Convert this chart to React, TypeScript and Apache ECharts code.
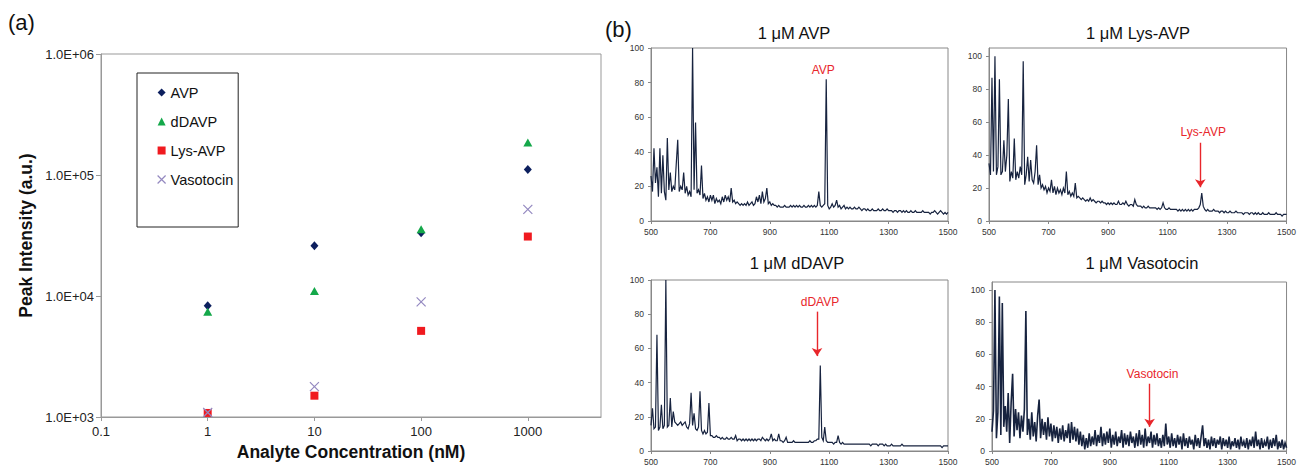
import React, { useEffect, useRef } from 'react';
import * as echarts from 'echarts';

// ---------- Panel (a): peak intensity vs concentration ----------
const concentrations = [1, 10, 100, 1000];
const avp = [8300, 26000, 33300, 111000];
const ddavp = [7400, 11000, 35600, 186000];
const lysAvp = [1080, 1500, 5150, 31000];
const vasotocin = [1090, 1780, 8950, 52000];

// ---------- Panel (b): mass spectra (m/z grid 500..1500, step 5) ----------
const mzStart = 500;
const mzStep = 5;

const specAVP = [
  26, 17, 42, 22, 31, 14, 42, 16, 38, 17, 12, 48, 18, 28, 17, 20, 18, 33, 47, 17,
  20, 18, 28, 16, 20, 15, 17, 14, 100, 18, 57, 16, 18, 15, 32, 13, 16, 12, 14, 11,
  15, 12, 15, 10, 13, 11, 12, 10, 14, 11, 15, 12, 14, 11, 19, 11, 12, 10, 11, 10,
  9, 10, 9, 10, 9, 11, 9, 10, 11, 9, 10, 14, 11, 15, 10, 17, 11, 13, 19, 10,
  11, 9, 10, 9, 9, 8, 9, 8, 8, 8, 9, 8, 8, 8, 9, 8, 9, 8, 9, 8,
  9, 8, 8, 9, 8, 8, 9, 8, 9, 8, 9, 8, 9, 17, 9, 8, 9, 10, 82, 9,
  7, 8, 10, 8, 9, 12, 8, 9, 7, 8, 9, 7, 8, 7, 8, 7, 7, 8, 7, 7,
  8, 7, 6, 7, 7, 6, 7, 6, 6, 7, 6, 6, 6, 7, 6, 6, 7, 6, 6, 7,
  6, 6, 6, 5, 6, 6, 5, 6, 6, 5, 6, 5, 6, 5, 5, 6, 5, 5, 6, 5,
  5, 5, 5, 6, 5, 5, 5, 5, 4, 5, 5, 6, 5, 4, 5, 6, 5, 4, 5, 4,
  5,
];

const specLysAVP = [
  35, 28, 87, 30, 100, 28, 33, 86, 28, 30, 49, 30, 40, 74, 24, 30, 26, 50, 25, 30,
  26, 33, 28, 97, 22, 28, 39, 24, 37, 25, 23, 30, 46, 22, 28, 20, 22, 19, 21, 17,
  20, 18, 25, 17, 21, 16, 20, 17, 19, 16, 20, 17, 30, 16, 18, 15, 17, 15, 23, 14,
  15, 14, 13, 14, 13, 12, 13, 12, 14, 12, 13, 12, 11, 12, 12, 11, 12, 11, 11, 10,
  11, 10, 11, 10, 11, 10, 10, 12, 10, 10, 11, 10, 12, 10, 9, 10, 10, 9, 13, 10,
  9, 9, 9, 8, 9, 8, 8, 9, 8, 8, 8, 8, 8, 7, 8, 7, 8, 11, 8, 7,
  7, 8, 7, 7, 7, 7, 7, 6, 7, 6, 7, 6, 7, 6, 7, 6, 7, 6, 7, 7,
  7, 8, 10, 17, 9, 7, 6, 7, 6, 6, 6, 7, 6, 6, 6, 5, 6, 6, 5, 6,
  5, 5, 6, 5, 5, 5, 6, 5, 5, 5, 5, 4, 5, 5, 5, 4, 5, 5, 4, 5,
  4, 5, 4, 4, 5, 4, 4, 4, 5, 4, 4, 4, 4, 5, 4, 4, 4, 3, 4, 4,
  4,
];

const specDDAVP = [
  15, 25, 13, 14, 68, 12, 14, 27, 13, 15, 100, 14, 15, 31, 14, 23, 17, 16, 15, 16,
  17, 15, 16, 17, 14, 13, 16, 34, 15, 22, 13, 12, 14, 35, 12, 10, 12, 10, 11, 28,
  9, 9, 8, 8, 9, 8, 8, 7, 8, 7, 7, 8, 7, 7, 8, 7, 7, 9, 6, 7,
  7, 6, 7, 6, 7, 6, 7, 6, 7, 6, 7, 6, 7, 7, 6, 8, 7, 6, 7, 6,
  7, 10, 6, 7, 6, 6, 10, 6, 6, 5, 6, 8, 5, 5, 5, 5, 6, 5, 5, 5,
  5, 5, 5, 5, 5, 5, 5, 6, 5, 5, 6, 6, 7, 7, 50, 8, 6, 14, 6, 5,
  5, 5, 5, 4, 5, 5, 9, 5, 4, 5, 4, 4, 4, 4, 4, 4, 4, 4, 4, 4,
  4, 4, 4, 4, 4, 4, 4, 4, 3, 4, 4, 4, 4, 3, 4, 4, 4, 3, 4, 3,
  3, 3, 4, 3, 3, 3, 3, 3, 3, 4, 3, 3, 3, 3, 3, 3, 3, 3, 3, 3,
  3, 3, 3, 3, 3, 3, 3, 3, 3, 3, 3, 3, 3, 3, 3, 3, 2, 3, 3, 3,
  3,
];

const specVasotocin = [
  12, 25, 100, 8, 24, 96, 10, 92, 15, 28, 12, 36, 5, 30, 48, 9, 26, 13, 24, 8,
  22, 12, 26, 87, 10, 20, 7, 24, 9, 18, 6, 22, 32, 8, 20, 10, 18, 7, 21, 9,
  17, 6, 16, 8, 15, 5, 14, 7, 16, 6, 13, 8, 17, 5, 18, 7, 15, 6, 14, 4,
  12, 3, 10, 1, 8, 2, 11, 3, 9, 4, 13, 3, 10, 5, 15, 3, 11, 4, 12, 5,
  14, 2, 10, 4, 12, 3, 9, 5, 13, 2, 11, 4, 10, 3, 12, 5, 9, 2, 11, 3,
  13, 4, 10, 2, 14, 3, 9, 5, 12, 2, 10, 4, 11, 3, 8, 2, 10, 3, 17, 4,
  9, 2, 11, 3, 8, 2, 10, 4, 9, 1, 11, 3, 8, 2, 9, 4, 7, 1, 10, 3,
  8, 2, 9, 16, 3, 8, 2, 7, 1, 9, 3, 8, 2, 7, 4, 9, 1, 8, 3, 7,
  2, 9, 1, 6, 3, 8, 2, 7, 1, 9, 3, 6, 2, 8, 1, 7, 3, 9, 2, 12,
  3, 7, 1, 8, 2, 6, 3, 9, 1, 7, 2, 8, 3, 10, 1, 6, 2, 7, 1, 5,
  2,
];

const spectrumTitles = ['1 μM AVP', '1 μM Lys-AVP', '1 μM dDAVP', '1 μM Vasotocin'];
const mzTicks = [500, 700, 900, 1100, 1300, 1500];

const FONT = '"Liberation Sans", Arial, Helvetica, sans-serif';
const NAVY_LINE = '#17233f';
const RED = '#e8262b';

const toPairs = (arr: number[]) => arr.map((v, i) => [mzStart + i * mzStep, v]);

export default function App() {
  const ref = useRef<HTMLDivElement>(null);

  useEffect(() => {
    if (!ref.current) return;
    const chart = echarts.init(ref.current, undefined, { renderer: 'svg' });

    const specGrids = [
      { left: 651, top: 48, width: 297, height: 173 },
      { left: 989, top: 48, width: 300, height: 173 },
      { left: 651, top: 280, width: 297, height: 173 },
      { left: 992, top: 282, width: 301, height: 175 },
    ];
    const specMax = [100, 105, 100, 105];
    const specLineWidth = [1.2, 1.2, 1.2, 1.6];

    const specX = specGrids.map((_, i) => ({
      type: 'value',
      gridIndex: i + 1,
      min: mzTicks[0],
      max: mzTicks[mzTicks.length - 1],
      interval: 200,
      axisLine: { show: true, lineStyle: { color: '#888', width: 1 } },
      axisTick: { show: true, length: 3, lineStyle: { color: '#888' } },
      axisLabel: {
        fontSize: 8.5,
        color: '#333',
        fontFamily: FONT,
        margin: 6,
        formatter: (v: number) => String(v),
      },
      splitLine: { show: false },
    }));
    const specY = specGrids.map((_, i) => ({
      type: 'value',
      gridIndex: i + 1,
      min: 0,
      max: specMax[i],
      interval: 20,
      axisLine: { show: true, lineStyle: { color: '#888', width: 1 } },
      axisTick: { show: true, length: 3, lineStyle: { color: '#888' } },
      axisLabel: {
        fontSize: 8.5,
        color: '#333',
        fontFamily: FONT,
        margin: 7,
        showMaxLabel: specMax[i] === 100,
        formatter: (v: number) => String(v),
      },
      splitLine: { show: false },
    }));

    const markText = (name: string, x: number, y: number) => ({
      silent: true,
      symbol: 'circle',
      symbolSize: 1,
      itemStyle: { color: 'rgba(0,0,0,0)' },
      label: { show: true, position: 'inside', formatter: '{b}', color: RED, fontSize: 12, fontFamily: FONT },
      data: [{ name, coord: [x, y] }],
    });
    const markArrow = (x: number, y0: number, y1: number) => ({
      silent: true,
      symbol: ['none', 'arrow'],
      symbolSize: 8,
      label: { show: false },
      lineStyle: { color: RED, width: 1.4, type: 'solid' },
      emphasis: { disabled: true },
      data: [[{ coord: [x, y0] }, { coord: [x, y1] }]],
    });

    const spectra = [specAVP, specLysAVP, specDDAVP, specVasotocin];
    const annotations = [
      { text: markText('AVP', 1080, 87), arrow: null },
      { text: markText('Lys-AVP', 1220, 54), arrow: markArrow(1210, 47.5, 20.5) },
      { text: markText('dDAVP', 1069, 87), arrow: markArrow(1059, 81.5, 55.5) },
      { text: markText('Vasotocin', 1045, 48), arrow: markArrow(1035, 41.8, 15) },
    ];

    const specSeries = spectra.map((arr, i) => ({
      type: 'line',
      name: spectrumTitles[i],
      xAxisIndex: i + 1,
      yAxisIndex: i + 1,
      data: toPairs(arr),
      showSymbol: false,
      symbol: 'none',
      silent: true,
      lineStyle: { color: NAVY_LINE, width: specLineWidth[i], join: 'miter' },
      markPoint: annotations[i].text,
      ...(annotations[i].arrow ? { markLine: annotations[i].arrow } : {}),
    }));

    const scatterBase = {
      type: 'scatter',
      xAxisIndex: 0,
      yAxisIndex: 0,
      silent: true,
    };
    const xPath = 'path://M0,0L10,10M10,0L0,10';

    const option: any = {
      animation: false,
      backgroundColor: '#ffffff',
      textStyle: { fontFamily: FONT },
      grid: [
        { left: 101, top: 54, width: 500, height: 363, show: true, borderColor: '#999', borderWidth: 1 },
        ...specGrids.map((g) => ({ ...g, show: true, borderColor: '#888', borderWidth: 1 })),
      ],
      legend: {
        left: 137,
        top: 73,
        orient: 'vertical',
        selectedMode: false,
        borderColor: '#222',
        borderWidth: 1,
        padding: [12, 5, 40, 20],
        itemGap: 14,
        itemWidth: 8,
        itemHeight: 8,
        textStyle: { fontSize: 14.5, color: '#111', fontFamily: FONT },
        data: [
          { name: 'AVP', icon: 'diamond', itemStyle: { color: '#0c1f5e', opacity: 1 } },
          { name: 'dDAVP', icon: 'triangle', itemStyle: { color: '#14a84a', opacity: 1 } },
          { name: 'Lys-AVP', icon: 'rect', itemStyle: { color: '#f01a1f', opacity: 1 } },
          { name: 'Vasotocin', icon: xPath, itemStyle: { color: 'rgba(0,0,0,0)', borderColor: '#9489c0', borderWidth: 1.2, opacity: 1 } },
        ],
      },
      xAxis: [
        {
          type: 'log',
          gridIndex: 0,
          min: 0.1,
          max: 4850,
          logBase: 10,
          name: 'Analyte Concentration (nM)',
          nameLocation: 'middle',
          nameGap: 25,
          nameTextStyle: { fontSize: 17.5, fontWeight: 'bold', color: '#111', fontFamily: FONT },
          axisLine: { show: true, lineStyle: { color: '#999' } },
          axisTick: { show: true, length: 4, lineStyle: { color: '#999' } },
          axisLabel: {
            fontSize: 13,
            color: '#222',
            fontFamily: FONT,
            margin: 8,
            showMaxLabel: false,
            formatter: (v: number) => String(+v.toPrecision(4)),
          },
          splitLine: { show: false },
        },
        ...specX,
      ],
      yAxis: [
        {
          type: 'log',
          gridIndex: 0,
          min: 1000,
          max: 1000000,
          logBase: 10,
          name: 'Peak Intensity (a.u.)',
          nameLocation: 'middle',
          nameGap: 66,
          nameTextStyle: { fontSize: 17.5, fontWeight: 'bold', color: '#111', fontFamily: FONT },
          axisLine: { show: true, lineStyle: { color: '#999' } },
          axisTick: { show: true, length: 5, lineStyle: { color: '#999' } },
          axisLabel: {
            fontSize: 13,
            color: '#222',
            fontFamily: FONT,
            margin: 7,
            formatter: (v: number) => {
              const e = Math.round(Math.log10(v));
              const m = v / Math.pow(10, e);
              return m.toFixed(1) + 'E+' + (e < 10 ? '0' : '') + e;
            },
          },
          splitLine: { show: false },
        },
        ...specY,
      ],
      series: [
        {
          ...scatterBase,
          name: 'AVP',
          symbol: 'diamond',
          symbolSize: [8, 9],
          itemStyle: { color: '#0c1f5e', opacity: 1 },
          data: concentrations.map((c, i) => [c, avp[i]]),
        },
        {
          ...scatterBase,
          name: 'dDAVP',
          symbol: 'triangle',
          symbolSize: [9, 8],
          itemStyle: { color: '#14a84a', opacity: 1 },
          data: concentrations.map((c, i) => [c, ddavp[i]]),
        },
        {
          ...scatterBase,
          name: 'Lys-AVP',
          symbol: 'rect',
          symbolSize: 8,
          itemStyle: { color: '#f01a1f', opacity: 1 },
          data: concentrations.map((c, i) => [c, lysAvp[i]]),
        },
        {
          ...scatterBase,
          name: 'Vasotocin',
          symbol: xPath,
          symbolSize: 9,
          itemStyle: { color: 'rgba(0,0,0,0)', borderColor: '#9489c0', borderWidth: 1.2, opacity: 1 },
          data: concentrations.map((c, i) => [c, vasotocin[i]]),
        },
        ...specSeries,
      ],
      graphic: [
        { type: 'text', x: 8, y: 22, style: { text: '(a)', font: `22px ${FONT}`, fill: '#111', verticalAlign: 'middle', textVerticalAlign: 'middle' } },
        { type: 'text', x: 605, y: 29, style: { text: '(b)', font: `22px ${FONT}`, fill: '#111', verticalAlign: 'middle', textVerticalAlign: 'middle' } },
        ...[
          [794, 33],
          [1138, 33],
          [797, 263],
          [1142, 263],
        ].map(([x, y], i) => ({
          type: 'text',
          x,
          y,
          style: {
            text: spectrumTitles[i],
            font: `16.5px ${FONT}`,
            fill: '#111',
            align: 'center',
            textAlign: 'center',
            verticalAlign: 'middle',
            textVerticalAlign: 'middle',
          },
        })),
      ],
    };

    chart.setOption(option);
    return () => chart.dispose();
  }, []);

  return (
    <div
      ref={ref}
      style={{ position: 'absolute', left: 0, top: 0, width: 1299, height: 466, background: '#fff' }}
    />
  );
}
